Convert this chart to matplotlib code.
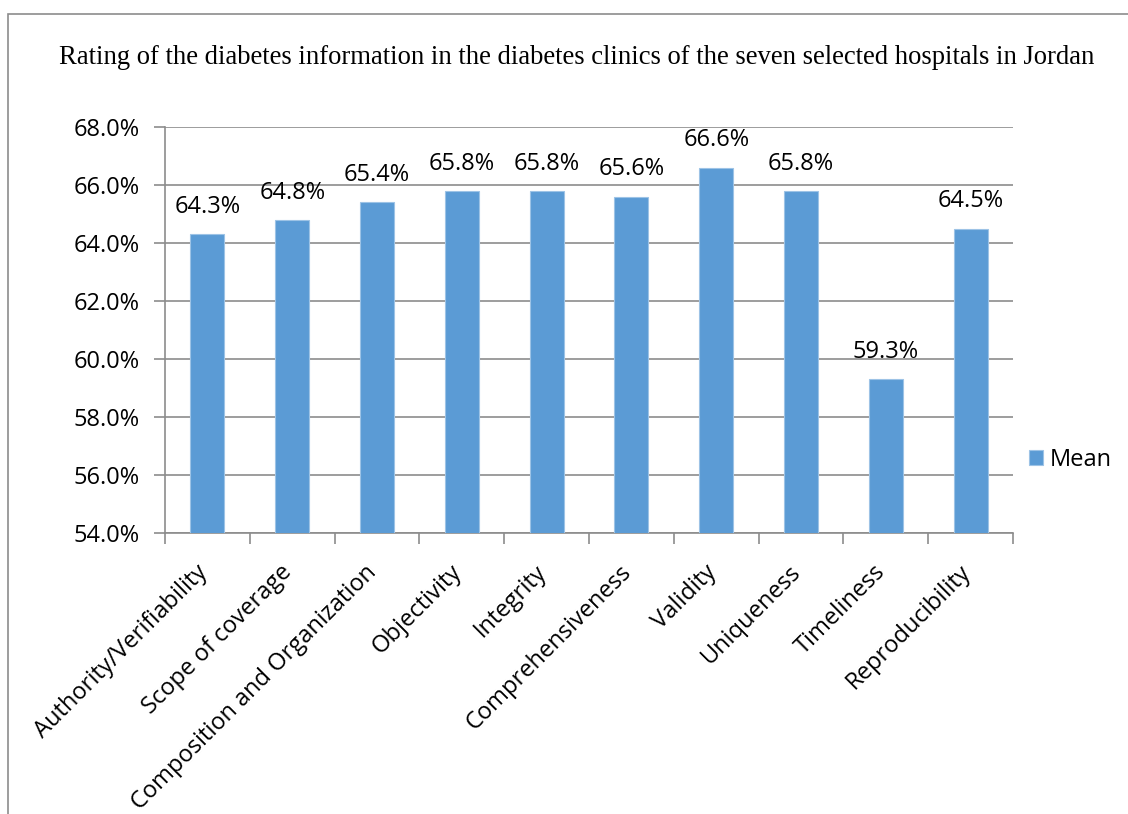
import matplotlib
matplotlib.use("Agg")
import matplotlib.pyplot as plt
from matplotlib.patches import Rectangle
from matplotlib.ticker import FuncFormatter, MultipleLocator
from matplotlib.transforms import ScaledTranslation

categories = [
    "Authority/Verifiability", "Scope of coverage", "Composition and Organization",
    "Objectivity", "Integrity", "Comprehensiveness", "Validity", "Uniqueness",
    "Timeliness", "Reproducibility",
]
mean_values = [64.3, 64.8, 65.4, 65.8, 65.8, 65.6, 66.6, 65.8, 59.3, 64.5]
series_name = "Mean"
title = ("Rating of the diabetes information in the diabetes clinics of the "
         "seven selected hospitals in Jordan")

W, H = 1128, 814
fig = plt.figure(figsize=(W / 100, H / 100), dpi=100)
sans = ["Open Sans", "DejaVu Sans"]
fs = 17

# outer frame of the chart area
fig.patches.append(Rectangle((8 / W, -0.01), 1.2, 1 - 14 / H + 0.01,
                             transform=fig.transFigure, fill=False,
                             edgecolor="#8c8c8c", linewidth=1.2))

ax = fig.add_axes([165 / W, 1 - 533 / H, (1013 - 165) / W, (533 - 127) / H])
x = list(range(len(categories)))
bars = ax.bar(x, mean_values, width=0.4, color="#5B9BD5", edgecolor="#9DC3E6",
              linewidth=0.8, label=series_name, zorder=3)

ax.set_ylim(54, 68)
ax.set_xlim(-0.5, len(categories) - 0.5)
ax.yaxis.set_major_locator(MultipleLocator(2))
ax.yaxis.set_major_formatter(FuncFormatter(lambda v, p: f"{v:.1f}%"))
ax.grid(axis="y", color="#8c8c8c", linewidth=1.2, zorder=0)
ax.set_axisbelow(True)

for s in ["top", "right"]:
    ax.spines[s].set_visible(False)
for s in ["left", "bottom"]:
    ax.spines[s].set_color("#8c8c8c")
    ax.spines[s].set_linewidth(1.2)

ax.tick_params(axis="y", length=8, width=1.2, color="#8c8c8c", labelsize=fs,
               pad=10)
ax.tick_params(axis="x", which="major", length=0, pad=8, labelsize=fs)
ax.set_xticks(x)
ax.set_xticklabels(categories, rotation=45, ha="right", rotation_mode="anchor")
ax.set_xticks([i - 0.5 for i in range(len(categories) + 1)], minor=True)
ax.tick_params(axis="x", which="minor", length=8, width=1.2, color="#8c8c8c")
shift = ScaledTranslation(-12 / 100, -16 / 100, fig.dpi_scale_trans)
for lbl in ax.get_xticklabels():
    lbl.set_family(sans)
    lbl.set_transform(lbl.get_transform() + shift)
for lbl in ax.get_yticklabels():
    lbl.set_family(sans)

for xi, v in zip(x, mean_values):
    ax.annotate(f"{v:.1f}%", (xi, v), xytext=(0, 11), textcoords="offset points",
                ha="center", va="bottom", fontsize=fs, family=sans)

fig.text(577 / W, 1 - 58 / H, title, ha="center", va="center", fontsize=19.2,
         family=["Liberation Serif", "DejaVu Serif"])

leg = fig.legend(handles=[bars], labels=[series_name], loc="center left",
                 bbox_to_anchor=(1029 / W, 1 - 460 / H), frameon=False,
                 prop={"family": sans, "size": fs}, handlelength=0.6,
                 handleheight=0.6, handletextpad=0.3, borderpad=0,
                 borderaxespad=0)

fig.savefig("out.png", dpi=100)
